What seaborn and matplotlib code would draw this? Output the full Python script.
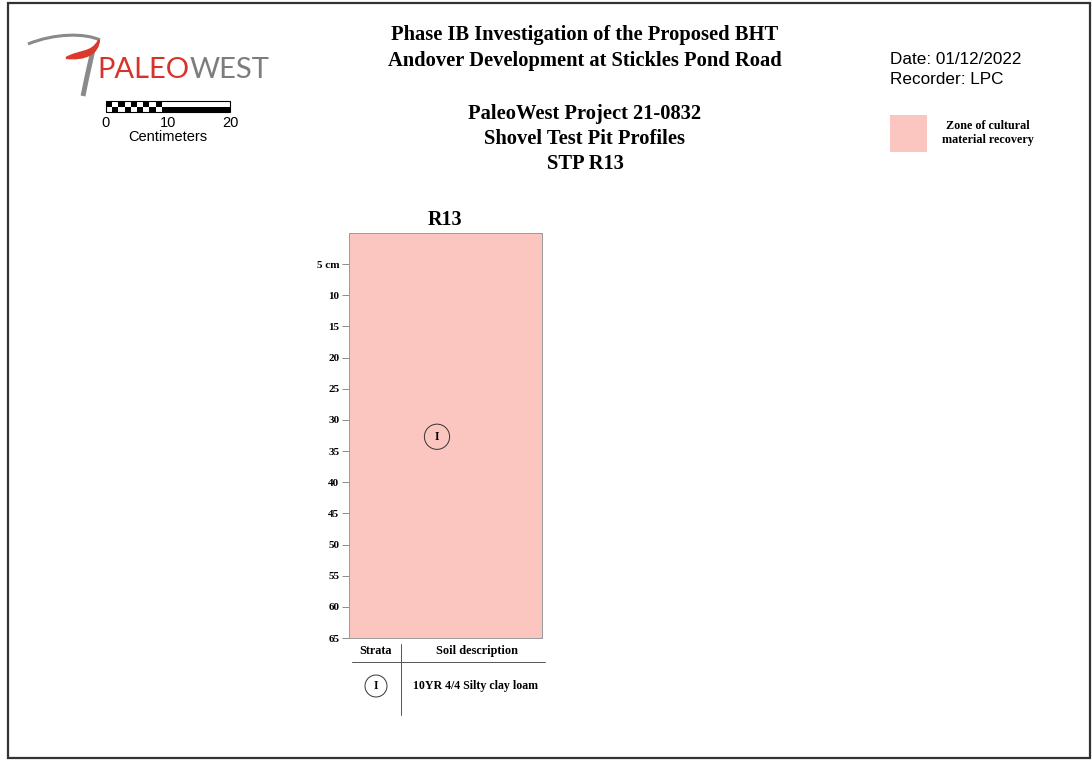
import matplotlib
matplotlib.use("Agg")
import matplotlib.pyplot as plt
import matplotlib.patches as mpatches
from matplotlib.path import Path
import seaborn as sns
import pandas as pd

# === PROFILE DATA ===
stp_name = "R13"
strata = ["I"]
strata_top = [0]
strata_bottom = [65]
strata_desc = ["10YR 4/4 Silty clay loam"]
label_depth = [32.7]
label_pos = [-0.044]
depth_ticks = [5, 10, 15, 20, 25, 30, 35, 40, 45, 50, 55, 60, 65]
depth_labels = ["5 cm"] + [str(d) for d in depth_ticks[1:]]
cultural_zone = (0, 65)

title_lines = ["Phase IB Investigation of the Proposed BHT",
               "Andover Development at Stickles Pond Road"]
sub_lines = ["PaleoWest Project 21-0832", "Shovel Test Pit Profiles", "STP R13"]
date_txt = "Date: 01/12/2022"
recorder_txt = "Recorder: LPC"

PINK = "#fcc6c0"
W, H = 1092, 761

sns.set_theme(style="white")
plt.rcParams["font.family"] = ["DejaVu Sans"]
plt.rcParams["text.color"] = "black"
plt.rcParams["ytick.labelcolor"] = "black"
SERIF = "Liberation Serif"
SANS = "Liberation Sans"

fig = plt.figure(figsize=(W / 100, H / 100), dpi=100)

# page overlay in pixel coords
page = fig.add_axes([0, 0, 1, 1])
page.set_xlim(0, W)
page.set_ylim(H, 0)
page.axis("off")

# border
page.add_patch(mpatches.Rectangle((8, 3), 1082, 755, fill=False, ec="#333333", lw=1.6))

# === LOGO ===
verts = [(28, 44), (55, 33), (85, 33), (100, 40)]
page.add_patch(mpatches.PathPatch(Path(verts, [Path.MOVETO, Path.CURVE4, Path.CURVE4, Path.CURVE4]),
                                  fill=False, ec="#8a8a8a", lw=2.2))
page.add_patch(mpatches.PathPatch(Path([(93, 50), (89, 68), (85, 85), (83, 96)],
                                       [Path.MOVETO, Path.CURVE4, Path.CURVE4, Path.CURVE4]),
                                  fill=False, ec="#8a8a8a", lw=3.5))
page.add_patch(mpatches.PathPatch(Path([(66, 58), (80, 50), (92, 54), (99, 40),
                                        (98, 54), (85, 60), (66, 58)],
                                       [Path.MOVETO, Path.CURVE4, Path.CURVE4, Path.CURVE4,
                                        Path.CURVE4, Path.CURVE4, Path.CURVE4]),
                                  fc="#d93a2b", ec="#d93a2b", lw=1.5))
t1 = page.text(97, 70, "PALEO", color="#d8332a", fontsize=21, family="Lato",
               va="center", ha="left")
fig.canvas.draw()
bb = t1.get_window_extent().transformed(page.transData.inverted())
page.text(bb.x1, 70, "WEST", color="#7d7d7d", fontsize=21, family="Lato",
          va="center", ha="left")

# scale bar
sx0, cm = 106, 6.2
page.add_patch(mpatches.Rectangle((sx0, 101), 20 * cm, 11, fill=False, ec="black", lw=0.8))
for i in range(10):
    ytop = 101 if i % 2 == 0 else 106.5
    page.add_patch(mpatches.Rectangle((sx0 + i * cm, ytop), cm, 5.5, fc="black", ec="none"))
page.add_patch(mpatches.Rectangle((sx0 + 10 * cm, 106.5), 10 * cm, 5.5, fc="black", ec="none"))
for v in (0, 10, 20):
    page.text(sx0 + v * cm, 123, str(v), fontsize=10.5, family=SANS, ha="center", va="center")
page.text(sx0 + 10 * cm, 137, "Centimeters", fontsize=10.5, family=SANS, ha="center", va="center")

# === TITLES ===
for i, line in enumerate(title_lines):
    page.text(585, 35 + i * 26, line, fontsize=14.8, family=SERIF, weight="bold",
              ha="center", va="center")
for i, line in enumerate(sub_lines):
    page.text(585, 114 + i * 25, line, fontsize=14.8, family=SERIF, weight="bold",
              ha="center", va="center")

page.text(890, 60, date_txt, fontsize=12.3, family=SANS, ha="left", va="center")
page.text(890, 80, recorder_txt, fontsize=12.3, family=SANS, ha="left", va="center")

# legend
page.add_patch(mpatches.Rectangle((890, 115), 37, 37, fc=PINK, ec="none"))
page.text(988, 126, "Zone of cultural", fontsize=8.7, family=SERIF, weight="bold",
          ha="center", va="center")
page.text(988, 140, "material recovery", fontsize=8.7, family=SERIF, weight="bold",
          ha="center", va="center")

# === PROFILE ===
x0, x1, y0, y1 = 349, 542, 233, 638
ax = fig.add_axes([x0 / W, (H - y1) / H, (x1 - x0) / W, (y1 - y0) / H])
df = pd.DataFrame({"stp": [stp_name] * len(strata), "top": strata_top,
                   "bottom": strata_bottom, "stratum": strata})
sns.barplot(data=df, x="stp", y="bottom", color=PINK, width=1.0, saturation=1,
            edgecolor="none", ax=ax)
ax.set_xlim(-0.5, 0.5)
ax.set_ylim(cultural_zone[1], cultural_zone[0])
ax.set_xlabel("")
ax.set_ylabel("")
ax.set_xticks([])
ax.set_yticks(depth_ticks)
ax.set_yticklabels(depth_labels, family=SERIF, weight="bold", fontsize=8, color="black")
ax.tick_params(axis="y", left=True, length=5, width=0.6, color="#777777", pad=2)
for s in ax.spines.values():
    s.set_color("#9a9a9a")
    s.set_linewidth(0.7)
ax.set_title(stp_name, family=SERIF, weight="bold", fontsize=14.5, pad=6, color="black")

sns.scatterplot(x=label_pos, y=label_depth, s=330, marker="o", facecolor="none",
                edgecolor="#333333", linewidth=0.7, ax=ax, legend=False)
for xp, yp, lab in zip(label_pos, label_depth, strata):
    ax.text(xp, yp, lab, family=SERIF, weight="bold", fontsize=8.5, ha="center", va="center")

# strata table
page.text(376, 651, "Strata", fontsize=8.8, family=SERIF, weight="bold", ha="center", va="center")
page.text(477, 651, "Soil description", fontsize=8.8, family=SERIF, weight="bold",
          ha="center", va="center")
page.plot([352, 545], [662, 662], color="#555555", lw=0.7)
page.plot([401, 401], [644, 715], color="#555555", lw=0.7)
for i, (lab, desc) in enumerate(zip(strata, strata_desc)):
    yy = 686 + i * 30
    page.add_patch(mpatches.Circle((376, yy), 11, fill=False, ec="#333333", lw=0.7))
    page.text(376, yy, lab, fontsize=8.5, family=SERIF, weight="bold", ha="center", va="center")
    page.text(413, yy, desc, fontsize=8.6, family=SERIF, weight="bold", ha="left", va="center")

fig.savefig("out.png", dpi=100)
